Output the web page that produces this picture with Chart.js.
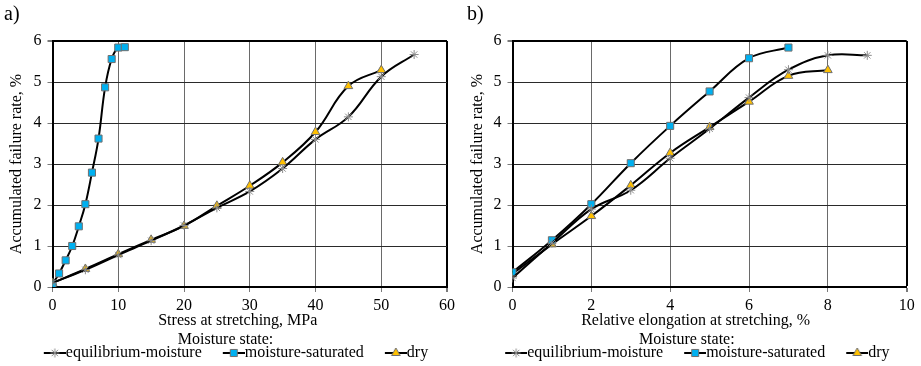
<!DOCTYPE html>
<html><head><meta charset="utf-8">
<script src="https://cdn.jsdelivr.net/npm/chart.js@4/dist/chart.umd.min.js"></script>
<style>
html,body{margin:0;padding:0;background:#fff;}
#wrap{position:relative;width:921px;height:366px;background:#fff;}
#c1{position:absolute;left:0;top:0;}
#c2{position:absolute;left:460px;top:0;}
</style></head><body>
<div id="wrap"><canvas id="c1" width="460" height="366"></canvas><canvas id="c2" width="461" height="366"></canvas></div>
<script>
const seriesNames = ['equilibrium-moisture', 'moisture-saturated', 'dry'];
const panelLabels = ['a)', 'b)'];
const xTitles = ['Stress at stretching, MPa', 'Relative elongation at stretching, %'];
const yTitle = 'Accumulated failure rate, %';
const legendTitle = 'Moisture state:';

// Panel a: stress (MPa) vs accumulated failure rate (%)
const stressEquilibrium = [0, 5, 10, 15, 20, 25, 30, 35, 40, 45, 50, 55];
const failEquilibriumA  = [0.1, 0.42, 0.78, 1.13, 1.5, 1.93, 2.33, 2.89, 3.6, 4.15, 5.13, 5.67];
const stressSaturated   = [0, 1, 2, 3, 4, 5, 6, 7, 8, 9, 10, 11];
const failSaturatedA    = [0.07, 0.33, 0.65, 1.0, 1.48, 2.02, 2.79, 3.62, 4.87, 5.56, 5.84, 5.85];
const stressDry         = [0, 5, 10, 15, 20, 25, 30, 35, 40, 45, 50];
const failDryA          = [0.1, 0.44, 0.8, 1.15, 1.49, 1.98, 2.47, 3.04, 3.78, 4.9, 5.29];

// Panel b: relative elongation (%) vs accumulated failure rate (%)
const elongEquilibrium = [0, 1, 2, 3, 4, 5, 6, 7, 8, 9];
const failEquilibriumB = [0.22, 1.07, 1.9, 2.36, 3.14, 3.86, 4.62, 5.3, 5.65, 5.65];
const elongSaturated   = [0, 1, 2, 3, 4, 5, 6, 7];
const failSaturatedB   = [0.36, 1.14, 2.02, 3.02, 3.93, 4.77, 5.58, 5.84];
const elongDry         = [0, 1, 2, 3, 4, 5, 6, 7, 8];
const failDryB         = [0.32, 1.04, 1.73, 2.48, 3.27, 3.9, 4.52, 5.15, 5.29];

const FONT = 'Liberation Serif, Times New Roman, serif';
const FS = 16;
const styles = [
  {pointStyle: 'star', fill: '#8c8c8c', stroke: '#8c8c8c', radius: 4.5},
  {pointStyle: 'rect', fill: '#00B0F0', stroke: '#6f6f6f', radius: 5},
  {pointStyle: 'triangle', fill: '#FFC000', stroke: '#6f6f6f', radius: 5}
];

function pts(xs, ys) { return xs.map((x, i) => ({x: x, y: ys[i]})); }

function makeIcon(st) {
  const c = document.createElement('canvas');
  c.width = 51; c.height = 14;
  const g = c.getContext('2d');
  g.strokeStyle = '#000'; g.lineWidth = 2;
  g.beginPath(); g.moveTo(29, 7); g.lineTo(51, 7); g.stroke();
  g.fillStyle = st.fill; g.strokeStyle = st.stroke; g.lineWidth = 1;
  Chart.helpers.drawPoint(g, {pointStyle: st.pointStyle, radius: st.radius, borderWidth: 1, rotation: 0}, 40, 7);
  return c;
}

function build(canvasId, idx, xsList, ysList, xMax, xStep, padLeft, padRight, yTitlePad) {
  const datasets = xsList.map((xs, i) => ({
    label: seriesNames[i],
    data: pts(xs, ysList[i]),
    borderColor: '#000',
    borderWidth: 2,
    tension: 0.4,
    pointStyle: styles[i].pointStyle,
    pointRadius: styles[i].radius,
    pointHoverRadius: styles[i].radius,
    pointBackgroundColor: styles[i].fill,
    pointBorderColor: styles[i].stroke,
    pointBorderWidth: 1,
    fill: false
  }));
  const icons = styles.map(makeIcon);
  return new Chart(document.getElementById(canvasId), {
    type: 'line',
    data: {datasets: datasets},
    options: {
      responsive: false,
      animation: false,
      devicePixelRatio: 1,
      layout: {padding: {left: padLeft, right: padRight, top: 0, bottom: -5}},
      plugins: {
        tooltip: {enabled: false},
        title: {
          display: true, text: panelLabels[idx], align: 'start',
          color: '#000', font: {family: FONT, size: 20, weight: 'normal', lineHeight: 1.2},
          padding: {top: 3, bottom: 14}
        },
        legend: {
          position: 'bottom',
          align: 'center',
          title: {display: true, text: legendTitle, color: '#000',
                  font: {family: FONT, size: FS, lineHeight: 1}, padding: {top: 3, bottom: -3}},
          labels: {
            usePointStyle: true,
            pointStyleWidth: 35,
            padding: 0,
            color: '#000',
            font: {family: FONT, size: FS},
            generateLabels: (chart) => seriesNames.map((n, i) => ({
              text: n, pointStyle: icons[i], datasetIndex: i, hidden: false,
              fillStyle: styles[i].fill, strokeStyle: styles[i].stroke, lineWidth: 1, fontColor: '#000'
            }))
          }
        }
      },
      scales: {
        x: {
          type: 'linear', min: 0, max: xMax,
          ticks: {stepSize: xStep, color: '#000', font: {family: FONT, size: FS}, padding: 4, maxRotation: 0},
          grid: {
            color: (c) => (c.tick && c.tick.value === xMax) ? '#000' : '#6a6a6a',
            lineWidth: (c) => (c.tick && c.tick.value === xMax) ? 2 : 1,
            tickLength: 5, tickColor: '#7a7a7a', drawTicks: true
          },
          border: {color: '#000', width: 2},
          title: {display: true, text: xTitles[idx] + '\u00a0'.repeat(idx === 0 ? 6 : 7), color: '#000',
                  font: {family: FONT, size: FS, lineHeight: 1.2}, padding: {top: 0, bottom: -1.5}},
          afterFit: (s) => { s.height = 42; }
        },
        y: {
          type: 'linear', min: 0, max: 6,
          ticks: {stepSize: 1, color: '#000', font: {family: FONT, size: FS}, padding: 6},
          grid: {
            color: (c) => (c.tick && c.tick.value === 6) ? '#000' : '#2a2a2a',
            lineWidth: (c) => (c.tick && c.tick.value === 6) ? 2 : 1,
            tickLength: 5, tickColor: '#7a7a7a', drawTicks: true
          },
          border: {color: '#000', width: 2},
          title: {display: true, text: yTitle, color: '#000',
                  font: {family: FONT, size: FS, lineHeight: 1.2}, padding: {top: yTitlePad, bottom: 0}},
          afterFit: (s) => { s.width = 52.5 - padLeft; }
        }
      }
    }
  });
}

build('c1', 0,
  [stressEquilibrium, stressSaturated, stressDry],
  [failEquilibriumA, failSaturatedA, failDryA],
  60, 10, 4, 13, 3);
build('c2', 1,
  [elongEquilibrium, elongSaturated, elongDry],
  [failEquilibriumB, failSaturatedB, failDryB],
  10, 2, 7, 14.3, 1);
</script>
</body></html>
